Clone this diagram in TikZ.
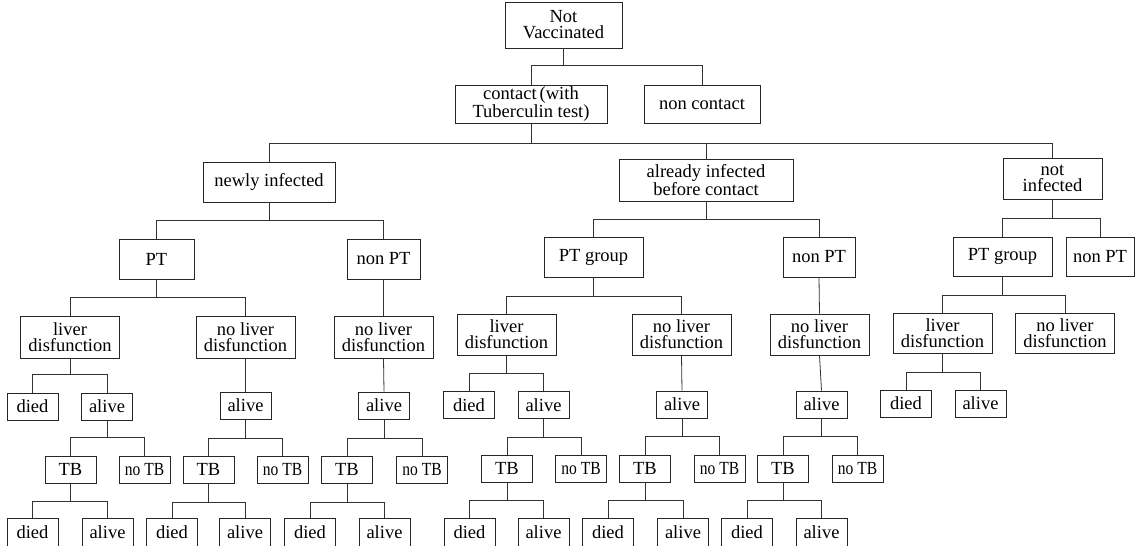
\documentclass[tikz,border=0pt]{standalone}
\usepackage{fontspec}
\setmainfont{Liberation Serif}
\usepackage{graphicx}
\tikzset{
  box/.style={draw=black!85, line width=0.8pt, inner sep=0pt, align=center, font=\fontsize{18.5}{16}\selectfont},
  conn/.style={draw=black!80, line width=0.8pt},
  leaf/.style={box, minimum width=51pt, minimum height=27pt},
  two/.style={box, minimum width=99pt, minimum height=42pt},
  mid/.style={box, minimum height=40pt},
}
\newcommand\twofork[4]{%
  \coordinate (bz) at (0,#4);
  \draw[conn] (#1.south) -- (#1.south |- bz);
  \draw[conn] (#2.north) |- (#3.north |- bz) -- (#3.north);
}
\newcommand\notb{\scalebox{0.84}[1]{no TB}}
\begin{document}
\begin{tikzpicture}[x=1pt,y=-1pt]
\useasboundingbox (0,0) rectangle (1136,546);
% level 0-1
\node[box, minimum width=117pt, minimum height=46pt] (root) at (563.5,25) {Not\\Vaccinated};
\node[box, minimum width=152pt, minimum height=38pt] (contact) at (531,104) {contact\,(with\\Tuberculin test)};
\node[box, minimum width=116pt, minimum height=38pt] (noncontact) at (702,104) {non contact};
% level 2
\node[box, minimum width=132pt, minimum height=40pt] (newly) at (269,182) {newly infected};
\node[box, minimum width=174pt, minimum height=42pt] (already) at (706,180) {already infected\\before contact};
\node[box, minimum width=99pt, minimum height=41pt] (notinf) at (1052.5,178.5) {not\\infected};
% level 3
\node[mid, minimum width=75pt] (pt1) at (156.5,259) {PT};
\node[mid, minimum width=73pt] (npt1) at (383.5,259) {non PT};
\node[mid, minimum width=99pt] (pt2) at (593.5,257) {PT group};
\node[mid, minimum width=72pt] (npt2) at (819,257) {non PT};
\node[mid, minimum width=99pt, minimum height=39pt] (pt3) at (1002.5,256.5) {PT group};
\node[mid, minimum width=68pt, minimum height=39pt] (npt3) at (1100,256.5) {non PT};
% level 4
\node[two] (liv1) at (70,337) {liver\\disfunction};
\node[two] (nol1) at (245.5,337) {no liver\\disfunction};
\node[two] (nol1b) at (383.5,337) {no liver\\disfunction};
\node[two, minimum height=41pt] (liv2) at (506.5,334.5) {liver\\disfunction};
\node[two, minimum height=41pt] (nol2) at (681.5,334.5) {no liver\\disfunction};
\node[two, minimum height=41pt] (nol2b) at (819.5,334.5) {no liver\\disfunction};
\node[two, minimum height=40pt] (liv3) at (942.5,333) {liver\\disfunction};
\node[two, minimum height=40pt] (nol3) at (1065,333) {no liver\\disfunction};
% level 5
\node[leaf] (d1) at (32.5,406.5) {died};
\node[leaf] (a1) at (107,406.5) {alive};
\node[leaf] (a1b) at (245.5,405.5) {alive};
\node[leaf] (a1c) at (384,405.5) {alive};
\node[leaf] (d2) at (469,405) {died};
\node[leaf] (a2) at (543.5,405) {alive};
\node[leaf] (a2b) at (682,404.5) {alive};
\node[leaf] (a2c) at (821.5,404.5) {alive};
\node[leaf] (d3) at (906,403.5) {died};
\node[leaf] (a3) at (980.5,403.5) {alive};
% level 6
\node[leaf] (tb1) at (70.5,469.5) {TB};
\node[leaf] (ntb1) at (144.5,469.5) {\notb};
\node[leaf] (tb1b) at (208.5,469.5) {TB};
\node[leaf] (ntb1b) at (282.5,469.5) {\notb};
\node[leaf] (tb1c) at (347,469.5) {TB};
\node[leaf] (ntb1c) at (422,469.5) {\notb};
\node[leaf] (tb2) at (507,468.5) {TB};
\node[leaf] (ntb2) at (581,468.5) {\notb};
\node[leaf] (tb2b) at (645,468.5) {TB};
\node[leaf] (ntb2b) at (719.5,468.5) {\notb};
\node[leaf] (tb2c) at (783,468.5) {TB};
\node[leaf] (ntb2c) at (857.5,468.5) {\notb};
% level 7
\node[leaf, minimum height=28pt] (dd1) at (32.5,532.5) {died};
\node[leaf, minimum height=28pt] (aa1) at (107.5,532.5) {alive};
\node[leaf, minimum height=28pt] (dd1b) at (172,532.5) {died};
\node[leaf, minimum height=28pt] (aa1b) at (245,532.5) {alive};
\node[leaf, minimum height=28pt] (dd1c) at (310,532.5) {died};
\node[leaf, minimum height=28pt] (aa1c) at (384.5,532.5) {alive};
\node[leaf, minimum height=28pt] (dd2) at (469.5,532) {died};
\node[leaf, minimum height=28pt] (aa2) at (543.5,532) {alive};
\node[leaf, minimum height=28pt] (dd2b) at (608,532) {died};
\node[leaf, minimum height=28pt] (aa2b) at (683,532) {alive};
\node[leaf, minimum height=28pt] (dd2c) at (747,532) {died};
\node[leaf, minimum height=28pt] (aa2c) at (821.5,532) {alive};
% connectors
\twofork{root}{contact}{noncontact}{65}
\twofork{contact}{newly}{notinf}{143}
\draw[conn] (already.north) -- (already.north |- bz);
\twofork{newly}{pt1}{npt1}{220}
\twofork{already}{pt2}{npt2}{219}
\twofork{notinf}{pt3}{npt3}{218}
\twofork{pt1}{liv1}{nol1}{297}
\twofork{pt2}{liv2}{nol2}{296}
\twofork{pt3}{liv3}{nol3}{295}
\draw[conn] (npt1.south) -- (nol1b.north);
\draw[conn] (npt2.south) -- (nol2b.north);
\twofork{liv1}{d1}{a1}{374}
\twofork{liv2}{d2}{a2}{373}
\twofork{liv3}{d3}{a3}{372}
\draw[conn] (nol1.south) -- (a1b.north);
\draw[conn] (nol1b.south) -- (a1c.north);
\draw[conn] (nol2.south) -- (a2b.north);
\draw[conn] (nol2b.south) -- (a2c.north);
\twofork{a1}{tb1}{ntb1}{437}
\twofork{a1b}{tb1b}{ntb1b}{438}
\twofork{a1c}{tb1c}{ntb1c}{438}
\twofork{a2}{tb2}{ntb2}{437}
\twofork{a2b}{tb2b}{ntb2b}{436}
\twofork{a2c}{tb2c}{ntb2c}{436}
\twofork{tb1}{dd1}{aa1}{501}
\twofork{tb1b}{dd1b}{aa1b}{502}
\twofork{tb1c}{dd1c}{aa1c}{502}
\twofork{tb2}{dd2}{aa2}{500}
\twofork{tb2b}{dd2b}{aa2b}{500}
\twofork{tb2c}{dd2c}{aa2c}{500}
\end{tikzpicture}
\end{document}
